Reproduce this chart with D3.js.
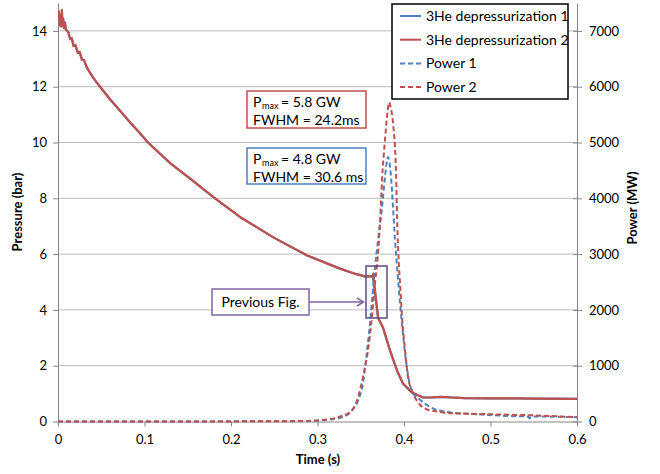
<!DOCTYPE html>
<html><head><meta charset="utf-8">
<script src="https://cdn.jsdelivr.net/npm/d3@7"></script>
<style>body{margin:0;background:#fff}svg{display:block}text{font-family:Lato,"Open Sans",sans-serif}</style>
</head><body><svg id="c" width="660" height="474"></svg>
<script>
// ---- data ----
const xTicks = [0, 0.1, 0.2, 0.3, 0.4, 0.5, 0.6];
const pressureTicks = [0, 2, 4, 6, 8, 10, 12, 14];
const powerTicks = [0, 1000, 2000, 3000, 4000, 5000, 6000, 7000];
const seriesNames = ["3He depressurization 1", "3He depressurization 2", "Power 1", "Power 2"];

// pressure (bar) vs time (s)
const pressure1 = [[0,14.4],[0.001,14.65],[0.002,14.25],[0.003,14.5],[0.004,14.2],[0.0045,14.7],[0.005,14.3],[0.006,14.45],[0.007,14.12],[0.008,14.3],[0.009,14.08],[0.0104,14.0],[0.012,13.95],[0.014,13.72],[0.016,13.74],[0.018,13.47],[0.02,13.5],[0.023,13.22],[0.025,13.25],[0.0277,12.97],[0.03,12.95],[0.033,12.72],[0.036,12.56],[0.04,12.36],[0.044,12.18],[0.0486,12.0],[0.06,11.56],[0.07,11.2],[0.0835,10.72],[0.0948,10.33],[0.104,10.0],[0.13,9.25],[0.155,8.65],[0.1815,8.0],[0.2104,7.33],[0.2489,6.6],[0.2875,5.96],[0.326,5.48],[0.345,5.28],[0.355,5.2],[0.364,5.2],[0.370,3.72],[0.3757,3.37],[0.3838,2.55],[0.3919,1.83],[0.3988,1.36],[0.4092,1.04],[0.422,0.86],[0.432,0.86],[0.443,0.88],[0.455,0.86],[0.47,0.84],[0.5,0.83],[0.53,0.83],[0.55,0.82],[0.6,0.81]];
const pressure2 = [[0,14.45],[0.001,14.7],[0.002,14.2],[0.003,14.55],[0.004,14.15],[0.0045,14.75],[0.005,14.3],[0.006,14.4],[0.007,14.1],[0.008,14.3],[0.009,14.05],[0.0104,14.0],[0.012,13.95],[0.014,13.7],[0.016,13.72],[0.018,13.45],[0.02,13.5],[0.023,13.2],[0.025,13.25],[0.0277,12.96],[0.03,12.95],[0.033,12.7],[0.036,12.55],[0.04,12.35],[0.044,12.18],[0.0486,12.0],[0.06,11.55],[0.07,11.2],[0.0835,10.72],[0.0948,10.33],[0.104,10.0],[0.13,9.25],[0.155,8.65],[0.1815,8.0],[0.2104,7.33],[0.2489,6.6],[0.2875,5.96],[0.326,5.48],[0.345,5.28],[0.355,5.2],[0.3635,5.2],[0.3645,5.3],[0.370,3.72],[0.3757,3.37],[0.3838,2.55],[0.3919,1.83],[0.3988,1.36],[0.4092,1.04],[0.422,0.86],[0.432,0.86],[0.443,0.88],[0.455,0.86],[0.47,0.84],[0.5,0.83],[0.53,0.83],[0.55,0.82],[0.6,0.81]];

// power (MW) vs time (s)
const power1 = [[0,0],[0.1,1],[0.2,3],[0.28,8],[0.3,15],[0.32,50],[0.3295,80],[0.34,200],[0.347,380],[0.3526,690],[0.356,1100],[0.3596,1590],[0.3635,2250],[0.3665,2770],[0.37,3250],[0.3746,3840],[0.378,4380],[0.3815,4740],[0.385,4380],[0.3873,3840],[0.3896,3250],[0.392,2770],[0.395,2200],[0.398,1700],[0.401,1250],[0.405,800],[0.41,520],[0.4185,390],[0.43,260],[0.45,170],[0.49,125],[0.527,95],[0.543,90],[0.545,60],[0.547,90],[0.6,78]];
const power2 = [[0,0],[0.1,1],[0.2,2],[0.28,8],[0.3,20],[0.32,60],[0.33,110],[0.338,170],[0.347,440],[0.3526,800],[0.3584,1280],[0.363,1880],[0.3665,2480],[0.3688,2800],[0.3723,3560],[0.3746,4330],[0.378,5040],[0.381,5550],[0.3827,5720],[0.385,5600],[0.3873,5350],[0.3908,4450],[0.392,3660],[0.3942,2770],[0.3954,2480],[0.3977,1880],[0.4012,1280],[0.4046,800],[0.4104,510],[0.4185,300],[0.4243,230],[0.4416,170],[0.4532,150],[0.5,130],[0.55,110],[0.6,75]];

// ---- layout ----
const svg = d3.select("#c");
const L = 58, R = 577, T = 3, B = 421.5;
const blue = "#4F81BD", red = "#C0504D", purple = "#8064A2", axisCol = "#868686", gridCol = "#bcbcbc";

const x = d3.scaleLinear().domain([0, 0.6]).range([L, R]);
const yP = d3.scaleLinear().domain([0, 15]).range([B, T]);
const yW = d3.scaleLinear().domain([0, 7500]).range([B, T]);

// gridlines
svg.append("g").selectAll("line").data(pressureTicks.filter(d => d > 0)).join("line")
  .attr("x1", L).attr("x2", R).attr("y1", d => yP(d)).attr("y2", d => yP(d))
  .attr("stroke", gridCol).attr("stroke-width", 1);

// axes
const fs = "13px";
const gx = svg.append("g").attr("transform", `translate(0,${B})`)
  .call(d3.axisBottom(x).tickValues(xTicks).tickFormat(d3.format("")).tickSize(5).tickSizeOuter(0));
const gl = svg.append("g").attr("transform", `translate(${L},0)`)
  .call(d3.axisLeft(yP).tickValues(pressureTicks).tickFormat(d3.format("d")).tickSize(5).tickSizeOuter(0));
const gr = svg.append("g").attr("transform", `translate(${R},0)`)
  .call(d3.axisRight(yW).tickValues(powerTicks).tickFormat(d3.format("d")).tickSize(5).tickSizeOuter(0));
[gx, gl, gr].forEach(g => {
  g.select(".domain").attr("stroke", axisCol).attr("stroke-width", 1);
  g.selectAll(".tick line").attr("stroke", axisCol);
  g.selectAll(".tick text").attr("fill", "#000").style("font-size", fs).style("font-family", "Lato, sans-serif");
});
gx.selectAll(".tick text").attr("dy", "1.1em");
gl.selectAll(".tick text").attr("x", -11);
gr.selectAll(".tick text").attr("x", 12);
gr.selectAll(".tick line").attr("x1", -4);

// axis titles
svg.append("text").attr("x", 318).attr("y", 464).attr("text-anchor", "middle")
  .style("font-size", "13px").style("font-weight", "bold").text("Time (s)");
svg.append("text").attr("transform", "translate(22,212) rotate(-90)").attr("text-anchor", "middle")
  .style("font-size", "13px").style("font-weight", "bold").text("Pressure (bar)");
svg.append("text").attr("transform", "translate(637,208) rotate(-90)").attr("text-anchor", "middle")
  .style("font-size", "13px").style("font-weight", "bold").text("Power (MW)");

// clip
svg.append("clipPath").attr("id", "clip").append("rect").attr("x", L).attr("y", T - 2).attr("width", R - L).attr("height", B - T + 4);
const plot = svg.append("g").attr("clip-path", "url(#clip)");

const lineP = d3.line().x(d => x(d[0])).y(d => yP(d[1])).curve(d3.curveLinear);
const lineW = d3.line().x(d => x(d[0])).y(d => yW(d[1])).curve(d3.curveMonotoneX);

plot.append("path").datum(pressure1).attr("d", lineP).attr("fill", "none").attr("stroke", blue).attr("stroke-width", 2.2).attr("stroke-linejoin", "round");
plot.append("path").datum(pressure2).attr("d", lineP).attr("fill", "none").attr("stroke", red).attr("stroke-width", 2.2).attr("stroke-linejoin", "round");
plot.append("path").datum(power1).attr("d", lineW).attr("fill", "none").attr("stroke", blue).attr("stroke-width", 2).attr("stroke-dasharray", "5,3");
plot.append("path").datum(power2).attr("d", lineW).attr("fill", "none").attr("stroke", red).attr("stroke-width", 2).attr("stroke-dasharray", "5,3");

// annotation boxes
function annBox(x0, y0, w, h, col, pmax, fwhm) {
  svg.append("rect").attr("x", x0).attr("y", y0).attr("width", w).attr("height", h)
    .attr("fill", "#fff").attr("stroke", col).attr("stroke-width", 1.5);
  svg.append("text").attr("x", x0 + 6).attr("y", y0 + 15.5).style("font-size", "14px").text("P");
  svg.append("text").attr("x", x0 + 15).attr("y", y0 + 18).style("font-size", "9px").text("max");
  svg.append("text").attr("x", x0 + 34).attr("y", y0 + 15.5).style("font-size", "14px").text("= " + pmax);
  svg.append("text").attr("x", x0 + 6).attr("y", y0 + 33.5).style("font-size", "14px").text("FWHM = " + fwhm);
}
annBox(247, 91, 119, 37, red, "5.8 GW", "24.2ms");
annBox(247, 148, 119, 36, blue, "4.8 GW", "30.6 ms");

// Previous Fig. callout
svg.append("rect").attr("x", 366).attr("y", 266).attr("width", 21).attr("height", 52)
  .attr("fill", "none").attr("stroke", "#604A7B").attr("stroke-width", 1.5);
svg.append("rect").attr("x", 212).attr("y", 289).attr("width", 97).attr("height", 26)
  .attr("fill", "#fff").attr("stroke", purple).attr("stroke-width", 1.5);
svg.append("text").attr("x", 260.5).attr("y", 307).attr("text-anchor", "middle").style("font-size", "14px").text("Previous Fig.");
svg.append("line").attr("x1", 309).attr("x2", 363).attr("y1", 302).attr("y2", 302).attr("stroke", purple).attr("stroke-width", 1.5);
svg.append("path").attr("d", "M357,298 L363.5,302 L357,306").attr("fill", "none").attr("stroke", purple).attr("stroke-width", 1.5);

// legend
const lg = svg.append("g");
lg.append("rect").attr("x", 392).attr("y", 4).attr("width", 176).attr("height", 95)
  .attr("fill", "#fff").attr("stroke", "#000").attr("stroke-width", 1.5);
const legCols = [blue, red, blue, red];
const legDash = [null, null, "5,3", "5,3"];
seriesNames.forEach((n, i) => {
  const yy = 16 + i * 23.7;
  lg.append("line").attr("x1", 400).attr("x2", 421).attr("y1", yy).attr("y2", yy)
    .attr("stroke", legCols[i]).attr("stroke-width", 2).attr("stroke-dasharray", legDash[i]);
  lg.append("text").attr("x", 426).attr("y", yy + 5).style("font-size", "14px").text(n);
});
</script></body></html>
